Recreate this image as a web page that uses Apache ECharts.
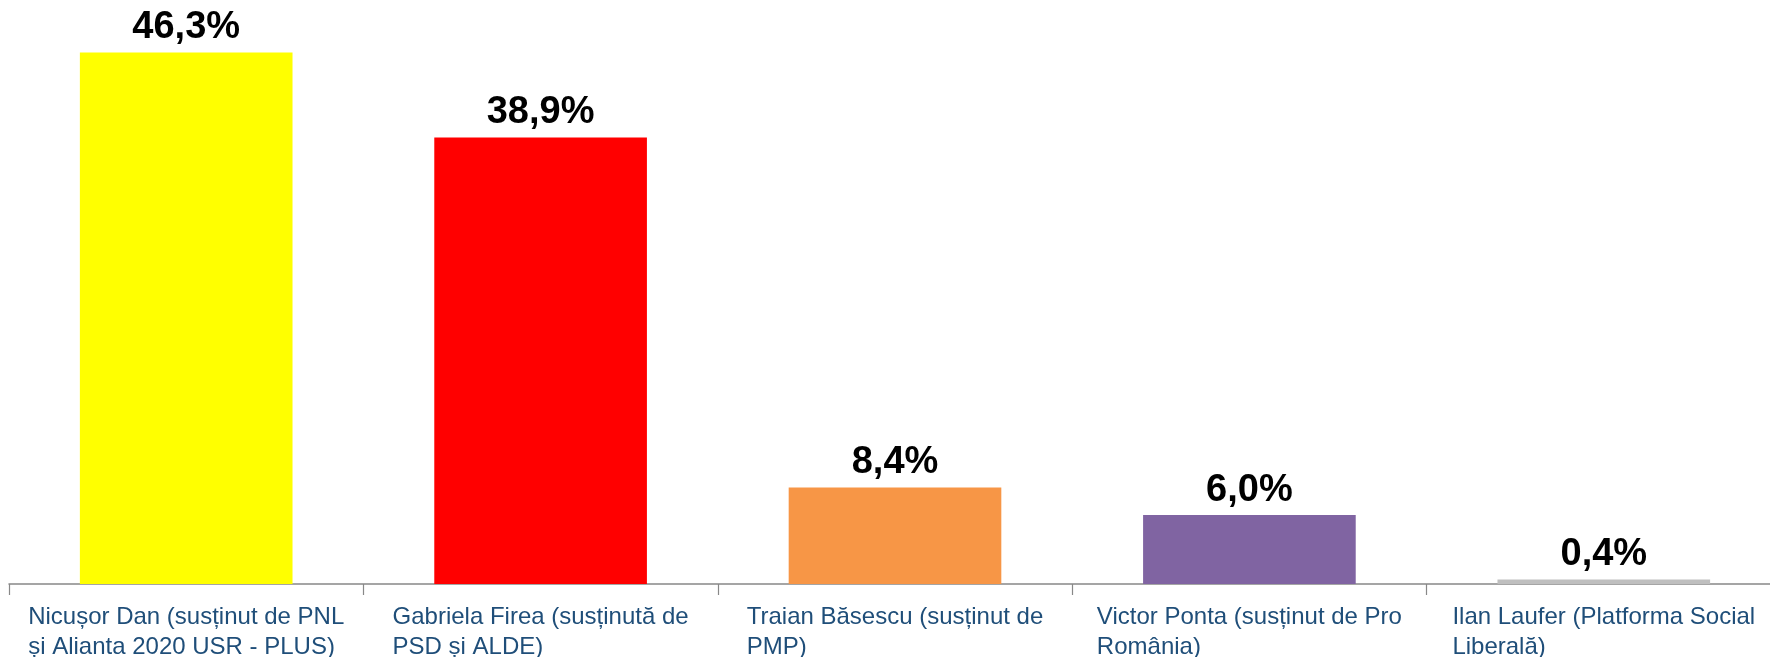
<!DOCTYPE html>
<html>
<head>
<meta charset="utf-8">
<script src="https://cdn.jsdelivr.net/npm/echarts@6/dist/echarts.min.js"></script>
<style>
html,body{margin:0;padding:0;background:#fff;}
#chart{width:1770px;height:657px;}
</style>
</head>
<body>
<div id="chart"></div>
<script>
const categories = [
  'Nicușor Dan (susținut de PNL\nși Alianta 2020 USR - PLUS)',
  'Gabriela Firea (susținută de\nPSD și ALDE)',
  'Traian Băsescu (susținut de\nPMP)',
  'Victor Ponta (susținut de Pro\nRomânia)',
  'Ilan Laufer (Platforma Social\nLiberală)'
];
const values = [46.3, 38.9, 8.4, 6.0, 0.4];
const barColors = ['#FFFF00', '#FF0000', '#F79646', '#8064A2', '#BFBFBF'];

const chart = echarts.init(document.getElementById('chart'), null, {renderer: 'canvas'});
chart.setOption({
  animation: false,
  backgroundColor: '#ffffff',
  textStyle: {fontFamily: 'Liberation Sans, Arial, sans-serif'},
  grid: {left: 9, top: 10, width: 1772, bottom: 73, containLabel: false, outerBoundsMode: 'none'},
  xAxis: {
    type: 'category',
    data: categories,
    boundaryGap: true,
    axisLine: {show: true, lineStyle: {color: '#888888', width: 1.5}},
    axisTick: {show: true, length: 11, lineStyle: {color: '#888888', width: 1.2}},
    axisLabel: {
      interval: 0,
      margin: 18,
      align: 'center',
      formatter: function (v) {
        return v.split('\n').map(function (s) { return '{a|' + s + '}'; }).join('\n');
      },
      rich: {
        a: {
          fontFamily: 'Liberation Sans, Arial, sans-serif',
          fontSize: 24,
          lineHeight: 30,
          color: '#1F4E79',
          align: 'left'
        }
      }
    }
  },
  yAxis: {
    type: 'value',
    min: 0,
    max: 50,
    show: false,
    splitLine: {show: false}
  },
  series: [{
    type: 'bar',
    data: values.map(function (v, i) { return {value: v, itemStyle: {color: barColors[i]}}; }),
    barWidth: '60%',
    label: {
      show: true,
      position: 'top',
      distance: 6,
      fontFamily: 'Liberation Sans, Arial, sans-serif',
      fontSize: 38,
      lineHeight: 38,
      fontWeight: 'bold',
      color: '#000000',
      formatter: function (p) { return p.value.toFixed(1).replace('.', ',') + '%'; }
    }
  }]
});
</script>
</body>
</html>
